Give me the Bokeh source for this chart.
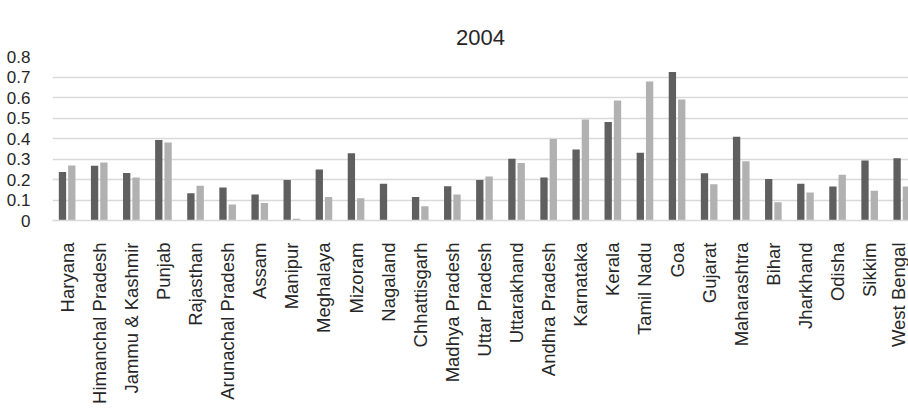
import math
from bokeh.plotting import figure
from bokeh.models import ColumnDataSource, FixedTicker, Legend, LegendItem
from bokeh.embed import file_html
from bokeh.resources import INLINE

states = ["Haryana", "Himanchal Pradesh", "Jammu & Kashmir", "Punjab", "Rajasthan",
          "Arunachal Pradesh", "Assam", "Manipur", "Meghalaya", "Mizoram", "Nagaland",
          "Chhattisgarh", "Madhya Pradesh", "Uttar Pradesh", "Uttarakhand", "Andhra Pradesh",
          "Karnataka", "Kerala", "Tamil Nadu", "Goa", "Gujarat", "Maharashtra", "Bihar",
          "Jharkhand", "Odisha", "Sikkim", "West Bengal"]
fiis = [0.237, 0.267, 0.232, 0.393, 0.133, 0.161, 0.127, 0.198, 0.249, 0.328, 0.179,
        0.115, 0.167, 0.197, 0.301, 0.210, 0.346, 0.480, 0.330, 0.725, 0.231, 0.408,
        0.202, 0.179, 0.166, 0.293, 0.304]
fiid = [0.268, 0.283, 0.210, 0.380, 0.169, 0.078, 0.085, 0.008, 0.115, 0.109, 0.0,
        0.070, 0.127, 0.215, 0.280, 0.398, 0.493, 0.585, 0.678, 0.590, 0.177, 0.289,
        0.089, 0.137, 0.223, 0.145, 0.166]
y_ticks = [0, 0.1, 0.2, 0.3, 0.4, 0.5, 0.6, 0.7, 0.8]

idx = list(range(len(states)))
src = ColumnDataSource(dict(
    x_s=[i - 0.145 for i in idx], x_d=[i + 0.145 for i in idx],
    fiis=fiis, fiid=fiid))

FONT = "Liberation Sans"
p = figure(frame_width=856, frame_height=164, output_backend="svg", toolbar_location=None,
           x_range=(-0.456, 26.21), y_range=(0, 0.8),
           min_border_left=52, min_border_right=0, min_border_top=56, min_border_bottom=0,
           outline_line_color=None, background_fill_color="white")

r1 = p.vbar(x="x_s", top="fiis", width=0.228, source=src, fill_color="#5f5f5f", line_color=None)
r2 = p.vbar(x="x_d", top="fiid", width=0.228, source=src, fill_color="#b1b1b1", line_color=None)

p.title.text = "2004"
p.title.align = "center"
p.title.offset = -10
p.title.standoff = 24
p.title.text_font = FONT
p.title.text_font_size = "22px"
p.title.text_font_style = "normal"
p.title.text_color = "#262626"

p.xaxis.ticker = FixedTicker(ticks=idx)
p.xaxis.major_label_overrides = {i: s for i, s in enumerate(states)}
p.xaxis.major_label_orientation = math.pi / 2
p.xaxis.major_label_text_font = FONT
p.xaxis.major_label_text_font_size = "18.5px"
p.xaxis.major_label_text_color = "#262626"
p.xaxis.major_label_standoff = 16
p.xaxis.axis_line_color = "#d9d9d9"
p.xaxis.axis_line_width = 1.5
p.xaxis.major_tick_line_color = None
p.xaxis.minor_tick_line_color = None

p.yaxis.ticker = FixedTicker(ticks=y_ticks)
p.yaxis.major_label_overrides = {0: "0"}
p.yaxis.major_label_text_font = FONT
p.yaxis.major_label_text_font_size = "17px"
p.yaxis.major_label_text_color = "#262626"
p.yaxis.major_label_standoff = 16
p.yaxis.axis_line_color = None
p.yaxis.major_tick_line_color = None
p.yaxis.minor_tick_line_color = None

p.xgrid.grid_line_color = None
p.ygrid.grid_line_color = "#d9d9d9"
p.ygrid.grid_line_width = 1.5
p.ygrid.ticker = FixedTicker(ticks=y_ticks)

legend = Legend(items=[LegendItem(label="FIIs", renderers=[r1]),
                       LegendItem(label="FIId", renderers=[r2])],
                orientation="horizontal", location="center",
                label_text_font=FONT, label_text_font_size="17px",
                label_text_color="#262626", glyph_width=10, glyph_height=10,
                spacing=7, label_standoff=5, padding=0, margin=0,
                border_line_color=None, background_fill_alpha=0)
p.add_layout(legend, "below")

open("out.html", "w").write(file_html(p, INLINE))
